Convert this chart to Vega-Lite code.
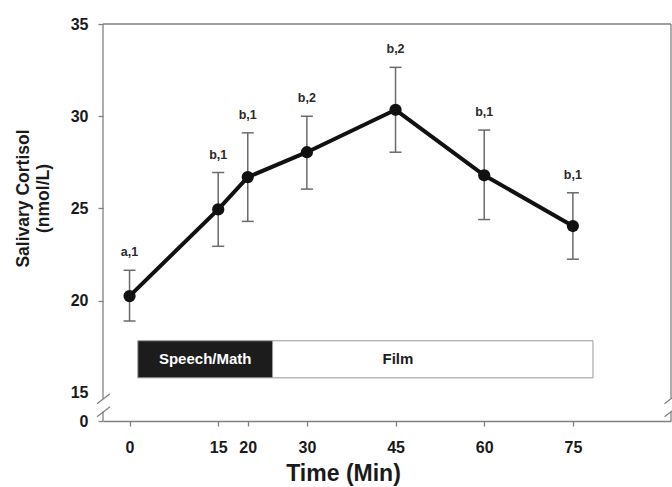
{
  "$schema": "https://vega.github.io/schema/vega-lite/v6.json",
  "width": 568,
  "height": 397,
  "autosize": {"type": "none"},
  "padding": {"left": 103, "top": 24, "right": 1, "bottom": 66},
  "config": {
    "font": "Liberation Sans",
    "view": {"stroke": null},
    "axis": {"grid": false}
  },
  "datasets": {
    "cortisol": [
      {"t": 0, "mean": 20.25, "lo": 18.9, "hi": 21.65, "sig": "a,1"},
      {"t": 15, "mean": 24.95, "lo": 22.95, "hi": 26.95, "sig": "b,1"},
      {"t": 20, "mean": 26.7, "lo": 24.3, "hi": 29.1, "sig": "b,1"},
      {"t": 30, "mean": 28.05, "lo": 26.05, "hi": 30.0, "sig": "b,2"},
      {"t": 45, "mean": 30.35, "lo": 28.05, "hi": 32.65, "sig": "b,2"},
      {"t": 60, "mean": 26.8, "lo": 24.4, "hi": 29.25, "sig": "b,1"},
      {"t": 75, "mean": 24.05, "lo": 22.25, "hi": 25.85, "sig": "b,1"}
    ],
    "phases": [
      {"phase": "Speech/Math", "start": 1.4, "end": 24.2, "labelX": 12.8, "bottom": 15.82, "top": 17.83},
      {"phase": "Film", "start": 24.2, "end": 78.4, "labelX": 45.4, "bottom": 15.82, "top": 17.83}
    ],
    "frame": [
      {"xa": -4.49, "xb": -4.49, "ya": 14.69, "yb": 35},
      {"xa": -4.49, "xb": -4.49, "ya": 13.48, "yb": 13.99},
      {"xa": -4.49, "xb": 91.6, "ya": 35, "yb": 35},
      {"xa": 91.6, "xb": 91.6, "ya": 14.69, "yb": 35},
      {"xa": 91.6, "xb": 91.6, "ya": 13.48, "yb": 13.99},
      {"xa": -5.5, "xb": -3.3, "ya": 14.41, "yb": 14.96},
      {"xa": -5.5, "xb": -3.3, "ya": 13.71, "yb": 14.25},
      {"xa": 90.5, "xb": 92.7, "ya": 14.41, "yb": 14.96},
      {"xa": 90.5, "xb": 92.7, "ya": 13.71, "yb": 14.25}
    ]
  },
  "layer": [
    {
      "data": {"name": "frame"},
      "mark": {"type": "rule", "color": "#808080", "strokeWidth": 1.3},
      "encoding": {
        "x": {
          "field": "xa", "type": "quantitative",
          "scale": {"domain": [-4.49, 91.6], "nice": false, "zero": false},
          "axis": {
            "values": [0, 15, 20, 30, 45, 60, 75],
            "title": "Time (Min)",
            "domainColor": "#808080", "domainWidth": 1.3,
            "tickColor": "#808080", "tickWidth": 1.3, "tickSize": 5,
            "labelFont": "Liberation Sans", "labelFontSize": 16, "labelFontWeight": "bold", "labelColor": "#1a1a1a",
            "labelPadding": 13,
            "titleFont": "Liberation Sans", "titleFontSize": 23, "titleFontWeight": "bold", "titleColor": "#1a1a1a",
            "titlePadding": 7, "titleX": 240
          }
        },
        "x2": {"field": "xb"},
        "y": {
          "field": "ya", "type": "quantitative",
          "scale": {"domain": [13.48, 35], "nice": false, "zero": false},
          "axis": {
            "values": [13.48, 15, 20, 25, 30, 35],
            "labelExpr": "datum.value < 14 ? '0' : format(datum.value, 'd')",
            "title": ["Salivary Cortisol", "(nmol/L)"],
            "domain": false,
            "tickColor": "#808080", "tickWidth": 1.3, "tickSize": 5,
            "tickOpacity": {"expr": "datum.value == 15 ? 0 : 1"},
            "labelFont": "Liberation Sans", "labelFontSize": 16, "labelFontWeight": "bold", "labelColor": "#1a1a1a",
            "labelPadding": 10,
            "titleFont": "Liberation Sans", "titleFontSize": 17.5, "titleFontWeight": "bold", "titleColor": "#1a1a1a",
            "titlePadding": 18, "titleLineHeight": 20, "titleY": 174
          }
        },
        "y2": {"field": "yb"}
      }
    },
    {
      "data": {"name": "phases"},
      "mark": {"type": "rect", "stroke": "#999999", "strokeWidth": 1},
      "encoding": {
        "x": {"field": "start", "type": "quantitative"},
        "x2": {"field": "end"},
        "y": {"field": "bottom", "type": "quantitative"},
        "y2": {"field": "top"},
        "fill": {"field": "phase", "type": "nominal", "legend": null,
          "scale": {"domain": ["Speech/Math", "Film"], "range": ["#1c1c1c", "#ffffff"]}}
      }
    },
    {
      "data": {"name": "phases"},
      "mark": {"type": "text", "fontSize": 15, "fontWeight": "bold", "baseline": "middle", "align": "center"},
      "encoding": {
        "x": {"field": "labelX", "type": "quantitative"},
        "y": {"datum": 16.83, "type": "quantitative"},
        "text": {"field": "phase"},
        "color": {"field": "phase", "type": "nominal", "legend": null,
          "scale": {"domain": ["Speech/Math", "Film"], "range": ["#ffffff", "#1c1c1c"]}}
      }
    },
    {
      "data": {"name": "cortisol"},
      "mark": {"type": "rule", "color": "#6a6a6a", "strokeWidth": 1.5},
      "encoding": {
        "x": {"field": "t", "type": "quantitative"},
        "y": {"field": "lo", "type": "quantitative"},
        "y2": {"field": "hi"}
      }
    },
    {
      "data": {"name": "cortisol"},
      "mark": {"type": "tick", "orient": "horizontal", "color": "#6a6a6a", "size": 12, "thickness": 1.5, "opacity": 1},
      "encoding": {
        "x": {"field": "t", "type": "quantitative"},
        "y": {"field": "lo", "type": "quantitative"}
      }
    },
    {
      "data": {"name": "cortisol"},
      "mark": {"type": "tick", "orient": "horizontal", "color": "#6a6a6a", "size": 12, "thickness": 1.5, "opacity": 1},
      "encoding": {
        "x": {"field": "t", "type": "quantitative"},
        "y": {"field": "hi", "type": "quantitative"}
      }
    },
    {
      "data": {"name": "cortisol"},
      "mark": {"type": "line", "color": "#111111", "strokeWidth": 4},
      "encoding": {
        "x": {"field": "t", "type": "quantitative"},
        "y": {"field": "mean", "type": "quantitative"}
      }
    },
    {
      "data": {"name": "cortisol"},
      "mark": {"type": "point", "shape": "circle", "filled": true, "color": "#111111", "size": 150, "opacity": 1},
      "encoding": {
        "x": {"field": "t", "type": "quantitative"},
        "y": {"field": "mean", "type": "quantitative"}
      }
    },
    {
      "data": {"name": "cortisol"},
      "mark": {"type": "text", "fontSize": 12.5, "fontWeight": "bold", "color": "#2a2a2a", "baseline": "middle", "dy": -18},
      "encoding": {
        "x": {"field": "t", "type": "quantitative"},
        "y": {"field": "hi", "type": "quantitative"},
        "text": {"field": "sig"}
      }
    }
  ]
}
